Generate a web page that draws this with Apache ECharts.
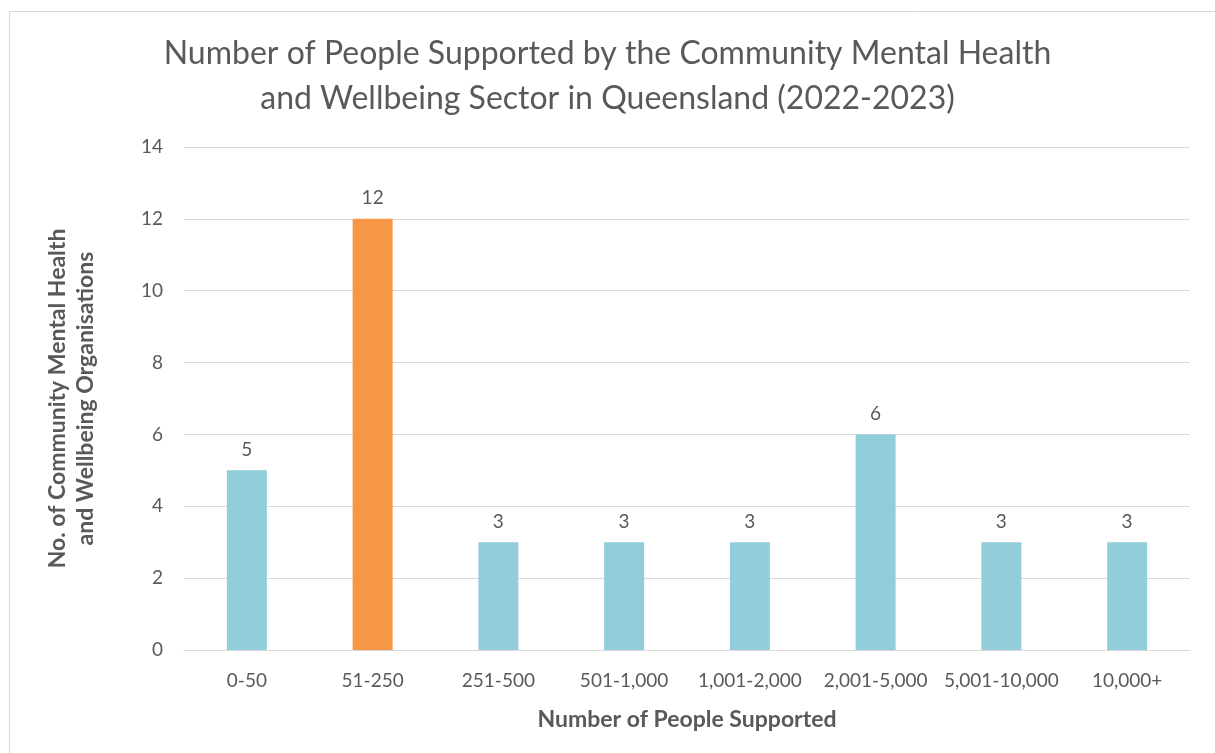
<!DOCTYPE html>
<html>
<head>
<meta charset="utf-8">
<script src="https://cdn.jsdelivr.net/npm/echarts@6/dist/echarts.min.js"></script>
<style>
html,body{margin:0;padding:0;background:#fff;}
#c{width:1215px;height:753px;}
</style>
</head>
<body>
<div id="c"></div>
<script>
const categories = ['0-50','51-250','251-500','501-1,000','1,001-2,000','2,001-5,000','5,001-10,000','10,000+'];
const values = [5, 12, 3, 3, 3, 6, 3, 3];
const highlightIndex = 1;
const titleText = 'Number of People Supported by the Community Mental Health\nand Wellbeing Sector in Queensland (2022-2023)';
const xTitle = 'Number of People Supported';
const yTitle = 'No. of Community Mental Health\nand Wellbeing Organisations';

const FONT = 'Lato';
const GRAY = '#595959';
const chart = echarts.init(document.getElementById('c'));
chart.setOption({
  backgroundColor: '#fff',
  animation: false,
  graphic: [{
    type: 'rect', shape: {x: 9.5, y: 11.5, width: 1300, height: 800},
    style: {fill: 'none', stroke: '#D9D9D9', lineWidth: 1}, silent: true, z: -1
  }],
  title: {
    text: titleText, left: 'center', top: 26,
    textStyle: {fontFamily: FONT, fontSize: 32, fontWeight: 'normal', color: GRAY, lineHeight: 45}
  },
  grid: {left: 184, right: 25, top: 147, bottom: 103, containLabel: false},
  xAxis: {
    type: 'category', data: categories,
    axisLine: {lineStyle: {color: '#D9D9D9', width: 1}},
    axisTick: {show: false},
    axisLabel: {fontFamily: FONT, fontSize: 19, color: GRAY, margin: 21, interval: 0},
    name: xTitle, nameLocation: 'middle', nameGap: 58,
    nameTextStyle: {fontFamily: FONT, fontSize: 23, fontWeight: 'bold', color: GRAY}
  },
  yAxis: {
    type: 'value', min: 0, max: 14, interval: 2,
    axisLine: {show: false}, axisTick: {show: false},
    splitLine: {lineStyle: {color: '#D9D9D9', width: 1}},
    axisLabel: {fontFamily: FONT, fontSize: 19, color: GRAY, margin: 21},
    name: yTitle, nameLocation: 'middle', nameRotate: 90, nameGap: 84,
    nameTextStyle: {fontFamily: FONT, fontSize: 23, fontWeight: 'bold', color: GRAY, lineHeight: 28, align: 'center'}
  },
  series: [{
    type: 'bar', barWidth: 40,
    data: values.map((v, i) => ({value: v, itemStyle: {color: i === highlightIndex ? '#F79646' : '#92CDDC'}})),
    label: {show: true, position: 'top', distance: 11, fontFamily: FONT, fontSize: 19, color: GRAY}
  }]
});
</script>
</body>
</html>
